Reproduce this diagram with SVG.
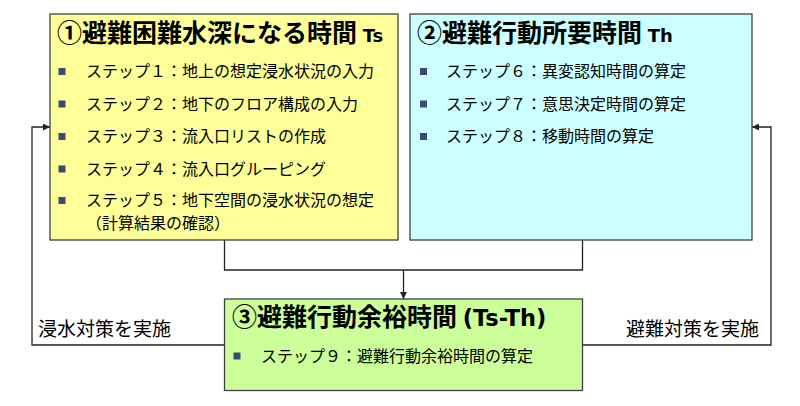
<svg xmlns="http://www.w3.org/2000/svg" width="800" height="406" viewBox="0 0 800 406">
<style>
.box{stroke:#404040;stroke-width:1.3}
.title{font-family:"Noto Sans CJK JP","Noto Sans",sans-serif;font-weight:700;font-size:25px;fill:#000}
.lat{font-family:"DejaVu Sans",sans-serif;font-weight:700}
.step{font-family:"Noto Sans CJK JP","Noto Sans",sans-serif;font-size:16px;fill:#000}
.lbl{font-family:"Noto Sans CJK JP","Noto Sans",sans-serif;font-size:19px;fill:#000}
.bul{fill:#3C4A6E}
.conn{fill:none;stroke:#222;stroke-width:1.3}
</style>
<defs>
<marker id="ah" viewBox="0 0 10 10" refX="10" refY="5" markerWidth="7" markerHeight="7" markerUnits="userSpaceOnUse" orient="auto">
<path d="M0,0 L10,5 L0,10 z" fill="#222"/>
</marker>
</defs>
<rect width="800" height="406" fill="#fff"/>
<g id="connectors">
<path class="conn" d="M224.5,240 V270 H582.5 V240"/>
<path class="conn" d="M403.5,270 V299" marker-end="url(#ah)"/>
<path class="conn" d="M224.5,345 H32 V127 H50" marker-end="url(#ah)"/>
<path class="conn" d="M582.5,345 H771 V127 H752" marker-end="url(#ah)"/>
</g>
<g id="node1">
<rect class="box" x="50" y="14" width="348" height="226" fill="#FFFF99"/>
<text class="title" x="57" y="41.5">①避難困難水深になる時間 <tspan class="lat" font-size="18">Ts</tspan></text>
<rect class="bul" x="58.5" y="68" width="7" height="7"/>
<rect class="bul" x="58.5" y="100.5" width="7" height="7"/>
<rect class="bul" x="58.5" y="133" width="7" height="7"/>
<rect class="bul" x="58.5" y="165.5" width="7" height="7"/>
<rect class="bul" x="58.5" y="197" width="7" height="7"/>
<text class="step" x="86" y="174.5">ステップ４：流入口グルーピング</text>
<text class="step" x="86" y="77">ステップ１：地上の想定浸水状況の入力</text>
<text class="step" x="86" y="109.5">ステップ２：地下のフロア構成の入力</text>
<text class="step" x="86" y="142">ステップ３：流入口リストの作成</text>
<text class="step" x="86" y="206">ステップ５：地下空間の浸水状況の想定</text>
<text class="step" x="86" y="228.5">（計算結果の確認）</text>
</g>
<g id="node2">
<rect class="box" x="410" y="14" width="342" height="226" fill="#CCFFFF"/>
<text class="title" x="417" y="41.5">②避難行動所要時間 <tspan class="lat" font-size="18">Th</tspan></text>
<rect class="bul" x="420" y="68" width="7" height="7"/>
<rect class="bul" x="420" y="100.5" width="7" height="7"/>
<rect class="bul" x="420" y="133" width="7" height="7"/>
<text class="step" x="446" y="77">ステップ６：異変認知時間の算定</text>
<text class="step" x="446" y="109.5">ステップ７：意思決定時間の算定</text>
<text class="step" x="446" y="142">ステップ８：移動時間の算定</text>
</g>
<g id="node3">
<rect class="box" x="224.5" y="299" width="358" height="91.5" fill="#CCFF99"/>
<text class="title" x="232" y="326">③避難行動余裕時間 <tspan class="lat" font-size="22.5">(Ts-Th)</tspan></text>
<rect class="bul" x="233.5" y="352.5" width="7" height="7"/>
<text class="step" x="261" y="362">ステップ９：避難行動余裕時間の算定</text>
</g>
<g id="labels">
<text class="lbl" x="38" y="336">浸水対策を実施</text>
<text class="lbl" x="626" y="336">避難対策を実施</text>
</g>
</svg>
